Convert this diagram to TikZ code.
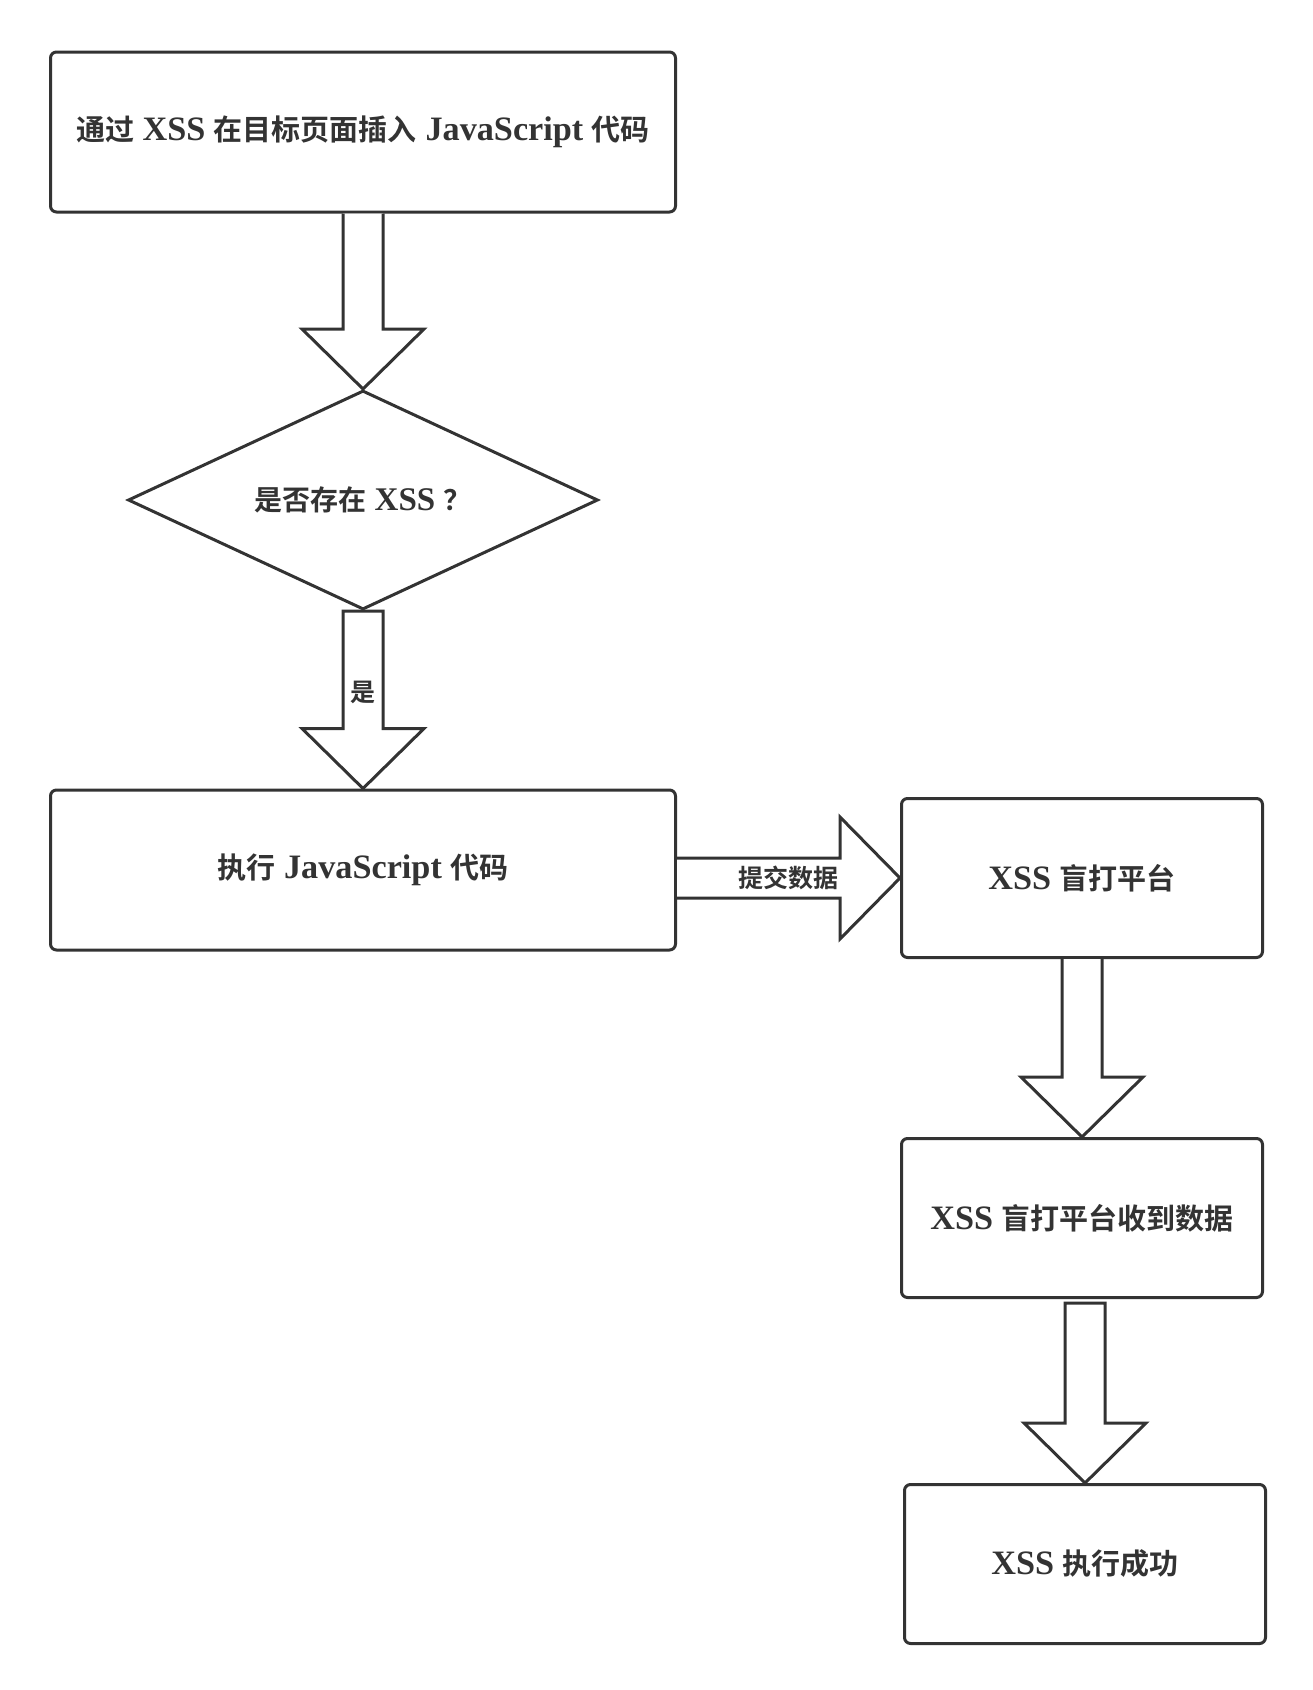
\documentclass[tikz,border=0pt]{standalone}
\usepackage{fontspec}
\setmainfont{Liberation Serif}[Scale=1.18, BoldFont={Liberation Serif Bold}]
\newfontfamily\cjkfont{Noto Sans CJK SC}[BoldFont={Noto Sans CJK SC Bold}]
\newcommand\zh[1]{{\cjkfont #1}}
\usetikzlibrary{shapes.geometric,calc}
\definecolor{ink}{HTML}{333333}
\begin{document}
\begin{tikzpicture}[x=1pt,y=-1pt,
  box/.style={draw=ink, line width=3pt, rounded corners=6pt, minimum width=625pt,
    minimum height=160pt, inner sep=0pt, text=ink,
    font={\bfseries\fontsize{29}{34}\selectfont}},
  smallbox/.style={box, minimum width=361pt, minimum height=159pt},
  dia/.style={diamond, draw=ink, line width=3pt, minimum width=470pt, minimum height=219pt,
    aspect=2.146, inner sep=0pt, text=ink, font={\bfseries\fontsize{28}{34}\selectfont}},
  barrow/.style={draw=ink, line width=3pt, fill=white, line join=miter},
  lab/.style={inner sep=0pt, text=ink, font={\bfseries\fontsize{25}{30}\selectfont}}]
\useasboundingbox (0,0) rectangle (1313,1690);

\node[box] (b1) at (363,132) {\zh{通过} XSS \zh{在目标页面插入} JavaScript \zh{代码}};
\node[dia] (d) at (363,500) {\zh{是否存在} XSS \zh{？}};
\node[box] (b2) at (363,870) {\zh{执行} JavaScript \zh{代码}};
\node[smallbox] (b3) at (1082,878) {XSS \zh{盲打平台}};
\node[smallbox] (b4) at (1082,1218) {XSS \zh{盲打平台收到数据}};
\node[smallbox] (b5) at (1085,1564) {XSS \zh{执行成功}};

% b1 -> d
\draw[barrow] ($(b1.south)+(-20,0)$) -- ($(d.north)+(-20,-60)$) -- ($(d.north)+(-61,-60)$)
  -- (d.north) -- ($(d.north)+(61,-60)$) -- ($(d.north)+(20,-60)$) -- ($(b1.south)+(20,0)$);
% d -> b2
\draw[barrow] ($(d.south)+(-20,0)$) -- ($(b2.north)+(-20,-60)$) -- ($(b2.north)+(-61,-60)$)
  -- (b2.north) -- ($(b2.north)+(61,-60)$) -- ($(b2.north)+(20,-60)$) -- ($(d.south)+(20,0)$) -- cycle;
\node[lab] (yes) at (363,692) {\zh{是}};
% b2 -> b3
\draw[barrow] ($(b2.east |- b3.west)+(0,-20)$) -- ($(b3.west)+(-60,-20)$) -- ($(b3.west)+(-60,-61)$)
  -- (b3.west) -- ($(b3.west)+(-60,61)$) -- ($(b3.west)+(-60,20)$) -- ($(b2.east |- b3.west)+(0,20)$);
\node[lab] (submit) at (788,878) {\zh{提交数据}};
% b3 -> b4
\draw[barrow] ($(b3.south -| b4.north)+(-20,0)$) -- ($(b4.north)+(-20,-60)$) -- ($(b4.north)+(-61,-60)$)
  -- (b4.north) -- ($(b4.north)+(61,-60)$) -- ($(b4.north)+(20,-60)$) -- ($(b3.south -| b4.north)+(20,0)$);
% b4 -> b5
\draw[barrow] ($(b4.south -| b5.north)+(-20,4)$) -- ($(b5.north)+(-20,-60)$) -- ($(b5.north)+(-61,-60)$)
  -- (b5.north) -- ($(b5.north)+(61,-60)$) -- ($(b5.north)+(20,-60)$) -- ($(b4.south -| b5.north)+(20,4)$) -- cycle;
\end{tikzpicture}
\end{document}
